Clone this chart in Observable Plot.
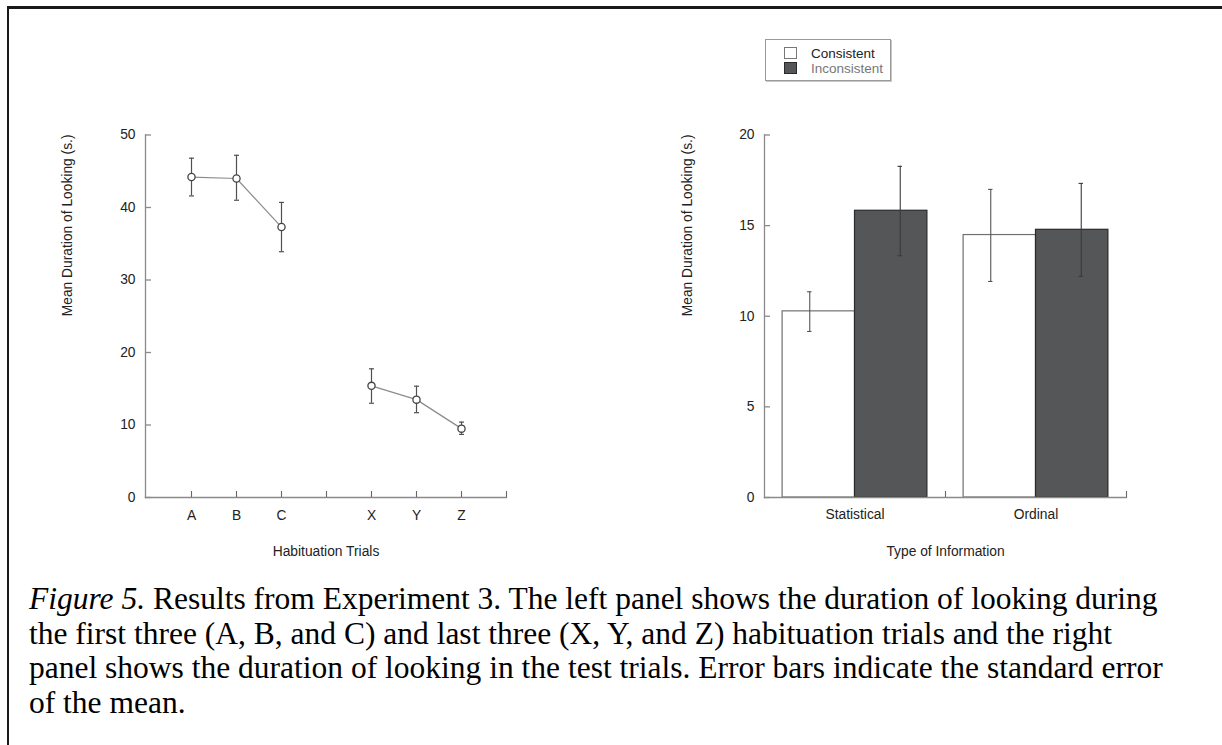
<!DOCTYPE html>
<html>
<head>
<meta charset="utf-8">
<script src="https://cdn.jsdelivr.net/npm/d3@7"></script>
<script src="https://cdn.jsdelivr.net/npm/@observablehq/plot@0.6"></script>
<style>
  html, body { margin: 0; padding: 0; background: #fff; }
  body { width: 1222px; height: 745px; position: relative; overflow: hidden; }
  .abs { position: absolute; }
  #topline { left: 7px; right: 0; top: 6px; height: 2.5px; background: #1a1a1a; }
  #leftline { left: 7px; top: 6px; bottom: 0; width: 2px; background: #1a1a1a; }
  #legend { left: 765px; top: 39px; width: 124px; height: 40px; border: 1px solid #9a9a9a;
            box-shadow: 1px 1px 0 #c8c8c8; font-family: 'Liberation Sans', Arial, sans-serif; font-size: 13.5px; }
  .sw { position: absolute; left: 18px; width: 12.5px; height: 12px; box-sizing: border-box; }
  .lt { position: absolute; left: 45px; line-height: 15px; white-space: nowrap; }
  #caption { left: 29px; top: 582px; font-family: 'Liberation Serif', 'Times New Roman', serif;
             font-size: 31.5px; line-height: 34.5px; color: #000; white-space: nowrap; }
</style>
</head>
<body>
<div id="topline" class="abs"></div>
<div id="leftline" class="abs"></div>
<div id="left" class="abs" style="left:0;top:0"></div>
<div id="right" class="abs" style="left:611px;top:0"></div>
<div id="legend" class="abs"></div>
<div id="caption" class="abs"></div>
<script>
// ---------- Data ----------
// Left panel: habituation trials
const trials = ["A", "B", "C", "X", "Y", "Z"];
const trialPhase = ["first", "first", "first", "last", "last", "last"];
const trialMeans = [44.2, 44.0, 37.3, 15.4, 13.5, 9.5];
const trialLow = [41.6, 41.0, 33.9, 13.0, 11.7, 8.7];
const trialHigh = [46.8, 47.2, 40.7, 17.75, 15.35, 10.4];
const trialSlots = ["A", "B", "C", " ", "X", "Y", "Z", "  "];
const leftYTicks = [0, 10, 20, 30, 40, 50];

// Right panel: test trials
const infoTypes = ["Statistical", "Ordinal"];
const conditions = ["Consistent", "Inconsistent"];
const consistentMeans = [10.27, 14.48];
const consistentLow = [9.16, 11.92];
const consistentHigh = [11.35, 17.0];
const inconsistentMeans = [15.82, 14.77];
const inconsistentLow = [13.34, 12.2];
const inconsistentHigh = [18.27, 17.33];
const rightYTicks = [0, 5, 10, 15, 20];

const yTitle = "Mean Duration of Looking (s.)";
const leftXTitle = "Habituation Trials";
const rightXTitle = "Type of Information";
const captionLines = [
  "<i>Figure 5.</i> Results from Experiment 3. The left panel shows the duration of looking during",
  "the first three (A, B, and C) and last three (X, Y, and Z) habituation trials and the right",
  "panel shows the duration of looking in the test trials. Error bars indicate the standard error",
  "of the mean."
];

// ---------- Tables ----------
const leftRows = trials.map((t, i) => ({trial: t, phase: trialPhase[i], mean: trialMeans[i], lo: trialLow[i], hi: trialHigh[i]}));
const consRows = infoTypes.map((t, i) => ({type: t, mean: consistentMeans[i], lo: consistentLow[i], hi: consistentHigh[i]}));
const inconsRows = infoTypes.map((t, i) => ({type: t, mean: inconsistentMeans[i], lo: inconsistentLow[i], hi: inconsistentHigh[i]}));

const font = "'Liberation Sans', Arial, Helvetica, sans-serif";
const fs = 13.8;
const axisGrey = "#8a8a8a";
const H = 600, MT = 134.5, MB = 103;
const frameH = H - MT - MB;

// horizontal cap symbol for error bars on a point scale
const capSymbol = {
  draw(context, size) {
    const r = Math.sqrt(size / Math.PI);
    context.moveTo(-r, 0);
    context.lineTo(r, 0);
  }
};

// ---------- Left panel ----------
const LW = 611, LML = 145, LMR = 105;
const leftFrameW = LW - LML - LMR;
const left = Plot.plot({
  width: LW, height: H,
  marginLeft: LML, marginRight: LMR, marginTop: MT, marginBottom: MB,
  style: {fontFamily: font, fontSize: fs + "px", color: "#222", background: "transparent", overflow: "visible"},
  x: {type: "point", domain: trialSlots, padding: 0.5, align: 1},
  y: {domain: [0, 50]},
  marks: [
    Plot.frame({anchor: "left", stroke: axisGrey, strokeWidth: 1.3}),
    Plot.frame({anchor: "bottom", stroke: axisGrey, strokeWidth: 1.3}),
    Plot.tickY(leftYTicks, {y: d => d, stroke: axisGrey, strokeWidth: 1.3, insetRight: leftFrameW - 6}),
    Plot.ruleX(trialSlots, {x: d => d, y1: 0, y2: 0, insetTop: -6, stroke: "#666", strokeWidth: 1.1}),
    Plot.axisY({ticks: leftYTicks, tickSize: 0, tickPadding: 10, label: null}),
    Plot.axisX({tickSize: 0, tickPadding: 13, label: null}),
    Plot.text([leftXTitle], {frameAnchor: "bottom", dy: 53.7, lineAnchor: "middle", fontSize: fs}),
    Plot.text([yTitle], {frameAnchor: "left", rotate: -90, dx: -78, lineAnchor: "middle", fontSize: fs}),
    Plot.line(leftRows, {x: "trial", y: "mean", z: "phase", stroke: "#8c8c8c", strokeWidth: 1.2}),
    Plot.ruleX(leftRows, {x: "trial", y1: "lo", y2: "hi", stroke: "#505050", strokeWidth: 1.2}),
    Plot.dot(leftRows, {x: "trial", y: "hi", symbol: capSymbol, r: 2.5, stroke: "#505050", strokeWidth: 1.2}),
    Plot.dot(leftRows, {x: "trial", y: "lo", symbol: capSymbol, r: 2.5, stroke: "#505050", strokeWidth: 1.2}),
    Plot.dot(leftRows, {x: "trial", y: "mean", r: 3.6, stroke: "#444", fill: "white", strokeWidth: 1.3})
  ]
});
document.getElementById("left").append(left);

// ---------- Right panel ----------
const RW = 611, RML = 153, RMR = 96;
const rightFrameW = RW - RML - RMR;
const band = rightFrameW / infoTypes.length;
const barGap = band * 0.1;
const half = band / 2;
const off = (half - barGap) / 2;
const errStroke = "#3a3a3a";
const right = Plot.plot({
  width: RW, height: H,
  marginLeft: RML, marginRight: RMR, marginTop: MT, marginBottom: MB,
  style: {fontFamily: font, fontSize: fs + "px", color: "#222", background: "transparent", overflow: "visible"},
  x: {type: "band", domain: infoTypes, padding: 0},
  y: {domain: [0, 20]},
  marks: [
    Plot.barY(consRows, {x: "type", y: "mean", insetLeft: barGap, insetRight: half, fill: "white", stroke: "#707070", strokeWidth: 1.2}),
    Plot.barY(inconsRows, {x: "type", y: "mean", insetLeft: half, insetRight: barGap, fill: "#555657", stroke: "#2a2a2a", strokeWidth: 1.2}),
    Plot.frame({anchor: "left", stroke: axisGrey, strokeWidth: 1.3}),
    Plot.frame({anchor: "bottom", stroke: axisGrey, strokeWidth: 1.3}),
    Plot.tickY(rightYTicks, {y: d => d, stroke: axisGrey, strokeWidth: 1.3, insetRight: rightFrameW - 6}),
    Plot.tickX(infoTypes, {x: d => d, dx: half, stroke: "#666", strokeWidth: 1.1, insetTop: frameH - 6}),
    Plot.axisY({ticks: rightYTicks, tickSize: 0, tickPadding: 10, label: null}),
    Plot.axisX({tickSize: 0, tickPadding: 12, label: null}),
    Plot.text([rightXTitle], {frameAnchor: "bottom", dy: 53.7, lineAnchor: "middle", fontSize: fs}),
    Plot.text([yTitle], {frameAnchor: "left", rotate: -90, dx: -77, lineAnchor: "middle", fontSize: fs}),
    // error bars
    Plot.ruleX(consRows, {x: "type", y1: "lo", y2: "hi", dx: -off - barGap / 2, stroke: "#555", strokeWidth: 1.1}),
    Plot.tickY(consRows, {x: "type", y: "hi", dx: -off - barGap / 2, insetLeft: half - 2.2, insetRight: half - 2.2, stroke: "#555", strokeWidth: 1.1}),
    Plot.tickY(consRows, {x: "type", y: "lo", dx: -off - barGap / 2, insetLeft: half - 2.2, insetRight: half - 2.2, stroke: "#555", strokeWidth: 1.1}),
    Plot.ruleX(inconsRows, {x: "type", y1: "lo", y2: "hi", dx: off + barGap / 2, stroke: errStroke, strokeWidth: 1.1}),
    Plot.tickY(inconsRows, {x: "type", y: "hi", dx: off + barGap / 2, insetLeft: half - 2.2, insetRight: half - 2.2, stroke: errStroke, strokeWidth: 1.1}),
    Plot.tickY(inconsRows, {x: "type", y: "lo", dx: off + barGap / 2, insetLeft: half - 2.2, insetRight: half - 2.2, stroke: errStroke, strokeWidth: 1.1})
  ]
});
document.getElementById("right").append(right);

// ---------- Legend ----------
const legend = document.getElementById("legend");
const swatchStyles = [
  {bg: "#fff", border: "1px solid #777", color: "#222"},
  {bg: "#555657", border: "1px solid #2a2a2a", color: "#777"}
];
conditions.forEach((c, i) => {
  const sw = document.createElement("div");
  sw.className = "sw";
  sw.style.top = (6.5 + i * 15) + "px";
  sw.style.background = swatchStyles[i].bg;
  sw.style.border = swatchStyles[i].border;
  legend.append(sw);
  const t = document.createElement("div");
  t.className = "lt";
  t.style.top = (5.5 + i * 15) + "px";
  t.style.color = swatchStyles[i].color;
  t.textContent = c;
  legend.append(t);
});

// ---------- Caption ----------
document.getElementById("caption").innerHTML = captionLines.join("<br>");
</script>
</body>
</html>
